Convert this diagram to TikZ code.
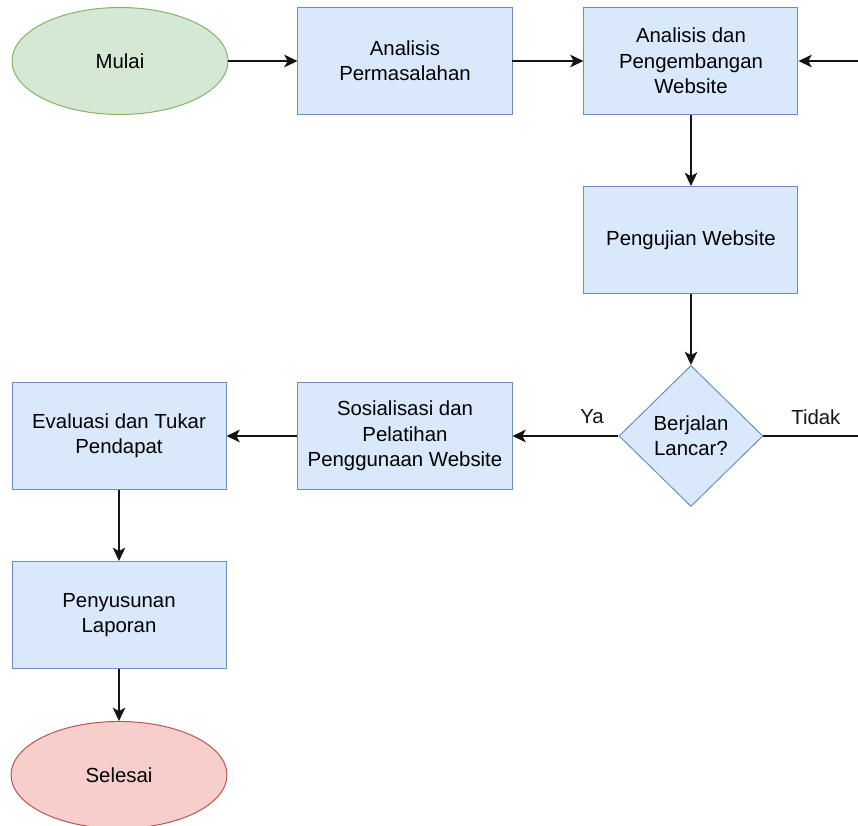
\documentclass[tikz,border=0pt]{standalone}
\usepackage{fontspec}
\setmainfont{Liberation Sans}
\usetikzlibrary{shapes.geometric, arrows.meta, positioning, calc}
\definecolor{boxfill}{HTML}{DAE8FC}
\definecolor{boxdraw}{HTML}{6C8EBF}
\definecolor{startfill}{HTML}{D5E8D4}
\definecolor{startdraw}{HTML}{82B366}
\definecolor{endfill}{HTML}{F8CECC}
\definecolor{enddraw}{HTML}{B85450}
\definecolor{arrowcolor}{RGB}{20, 20, 20}
\tikzset{
    process/.style={
        rectangle,
        minimum width=5.35cm,
        minimum height=2.675cm,
        inner sep=2pt,
        align=center,
        draw=boxdraw,
        fill=boxfill,
        line width=0.7pt,
        font=\fontsize{14.5}{18}\selectfont
    },
    terminal/.style={
        ellipse,
        minimum width=5.4cm,
        minimum height=2.675cm,
        align=center,
        line width=0.7pt,
        font=\fontsize{14.5}{18}\selectfont
    },
    decision/.style={
        diamond,
        aspect=1,
        inner sep=0pt,
        minimum width=3.6cm,
        minimum height=3.525cm,
        align=center,
        draw=boxdraw,
        fill=boxfill,
        line width=0.7pt,
        font=\fontsize{14.5}{18}\selectfont
    },
    arrow/.style={
        line width=0.9pt,
        -{Stealth[length=9.5pt,width=9pt,inset=2.5pt]},
        color=arrowcolor
    },
    line/.style={
        line width=0.9pt,
        color=arrowcolor
    },
    annotation/.style={
        font=\fontsize{14.5}{18}\selectfont,
        text=arrowcolor
    }
}

\begin{document}
\begin{tikzpicture}
    \useasboundingbox (0,0) rectangle (21.45,-20.625);

    % Define main process nodes
    \node (start) [terminal, draw=startdraw, fill=startfill] at (3.0,-1.525) {Mulai};
    \node (problem) [process, right=1.725cm of start] {Analisis\\Permasalahan};
    \node (develop) [process, right=1.775cm of problem] {Analisis dan\\Pengembangan\\Website};
    \node (testing) [process, below=1.775cm of develop] {Pengujian Website};
    \node (check) [decision, below=1.775cm of testing] {Berjalan\\Lancar?};
    \node (training) [process, left=2.65cm of check] {Sosialisasi dan\\Pelatihan\\Penggunaan Website};
    \node (evaluate) [process, left=1.775cm of training] {Evaluasi dan Tukar\\Pendapat};
    \node (report) [process, below=1.775cm of evaluate] {Penyusunan\\Laporan};
    \node (finish) [terminal, draw=enddraw, fill=endfill, below=1.3cm of report] {Selesai};

    % Loose ends at the right border
    \coordinate [right=1.55cm of develop.east] (backin);
    \coordinate [right=2.425cm of check.east] (noout);

    % Draw main arrows
    \draw [arrow] (start) -- (problem);
    \draw [arrow] (problem) -- (develop);
    \draw [arrow] (backin) -- (develop);
    \draw [arrow] (develop) -- (testing);
    \draw [arrow] (testing) -- (check);
    \draw [arrow] (check) -- (training)
        node [annotation, pos=0.25, yshift=0.48cm] {Ya};
    \draw [line] (check) -- (noout)
        node [annotation, pos=0.54, yshift=0.48cm] {Tidak};
    \draw [arrow] (training) -- (evaluate);
    \draw [arrow] (evaluate) -- (report);
    \draw [arrow] (report) -- (finish);

\end{tikzpicture}
\end{document}
